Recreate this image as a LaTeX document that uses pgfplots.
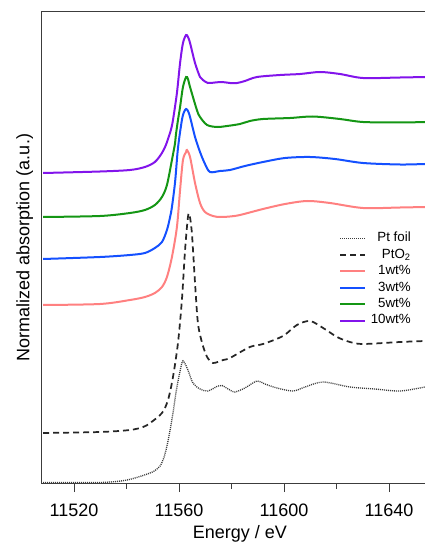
\documentclass[border=0pt]{standalone}
\usepackage{fontspec}
\setmainfont{Liberation Sans}
\usepackage{pgfplots}
\pgfplotsset{compat=1.18}
\definecolor{wtone}{RGB}{255,128,128}
\definecolor{wtthree}{RGB}{20,80,255}
\definecolor{wtfive}{RGB}{20,150,20}
\definecolor{wtten}{RGB}{130,20,235}
\definecolor{axgray}{RGB}{60,60,60}

\begin{document}
\begin{tikzpicture}
\begin{axis}[
  scale only axis,
  width=289.8pt, height=353.25pt,
  xmin=11507.8, xmax=11655, ymin=0, ymax=4.71,
  axis line style={axgray, line width=0.75pt},
  xtick={11520,11560,11600,11640},
  xticklabels={11520,11560,11600,11640},
  scaled x ticks=false,
  minor x tick num=1,
  xtick pos=bottom, ytick=\empty,
  tick align=outside,
  major tick length=6.75pt, minor tick length=4.5pt,
  every tick/.style={axgray, line width=0.75pt},
  xticklabel style={font=\fontsize{13.5}{16}\selectfont, yshift=-5.5pt},
  xlabel={Energy / eV},
  ylabel={Normalized absorption (a.u.)},
  label style={font=\fontsize{13.5}{16}\selectfont},
  xlabel style={at={([yshift=-41.5pt]axis description cs:0.5124,0)}, anchor=base},
  ylabel style={at={([xshift=-9.4pt]axis description cs:0,0.5)}, rotate=0, anchor=base},
  legend cell align=right,
  legend image code/.code={\draw[#1] (0pt,0pt) -- (18.75pt,0pt);},
  legend style={at={(axis description cs:0.9568,0.535)}, anchor=north east,
    draw=none, fill=none, inner sep=0pt, row sep=1.3pt, column sep=3pt,
    font=\fontsize{10}{12}\selectfont,
    nodes={inner sep=0.5pt, text height=7.5pt, text depth=2.5pt}},
]
% Pt foil
\addplot[axgray, line width=1pt, dash pattern=on 0.75pt off 0.75pt, smooth] coordinates {
  (11508.2,0.005) (11529.9,0.005) (11540.2,0.03) (11549.0,0.10) (11551.6,0.14)
  (11552.8,0.17) (11554.2,0.25) (11555.4,0.37) (11556.6,0.53) (11557.7,0.70)
  (11559.2,0.96) (11561.1,1.20) (11561.9,1.21) (11563.4,1.13) (11565.3,1.00)
  (11568.0,0.94) (11571.0,0.92) (11574.8,0.97) (11576.4,0.975) (11579.4,0.93)
  (11581.3,0.91) (11585.1,0.95) (11589.7,1.02) (11592.7,0.99) (11597.3,0.95)
  (11603.4,0.92) (11608.0,0.96) (11614.9,1.01) (11625.1,0.96) (11634.6,0.94)
  (11644.2,0.92) (11653.7,0.96) (11655,0.965)};
\addlegendentry{Pt foil}
% PtO2
\addplot[black!85, line width=1.3pt, dash pattern=on 4.5pt off 3pt, smooth] coordinates {
  (11508.2,0.50) (11529.9,0.51) (11541.3,0.53) (11546.3,0.56) (11549.0,0.60)
  (11553.5,0.70) (11555.8,0.83) (11557.7,1.06) (11559.6,1.40) (11561.1,1.83)
  (11562.3,2.33) (11563.4,2.66) (11564.0,2.68) (11564.9,2.50) (11566.1,2.00)
  (11567.2,1.60) (11568.8,1.40) (11570.7,1.26) (11572.9,1.20) (11576.8,1.23)
  (11579.4,1.25) (11587.0,1.36) (11592.0,1.39) (11599.6,1.47) (11604.9,1.58)
  (11609.9,1.62) (11614.9,1.55) (11620.2,1.46) (11625.1,1.41) (11630.1,1.39)
  (11644.2,1.41) (11653.7,1.42) (11655,1.42)};
\addlegendentry{PtO\textsubscript{2}}
% 1 wt%
\addplot[wtone, line width=1.5pt, smooth] coordinates {
  (11508.2,1.78) (11529.9,1.79) (11541.3,1.83) (11547.0,1.86) (11550.8,1.90)
  (11553.5,1.96) (11555.4,2.06) (11557.3,2.26) (11559.2,2.56) (11560.4,2.93)
  (11561.5,3.23) (11562.7,3.31) (11563.0,3.33) (11564.2,3.26) (11566.1,3.00)
  (11568.0,2.80) (11569.9,2.71) (11572.9,2.67) (11575.6,2.66) (11579.4,2.665)
  (11583.2,2.68) (11592.0,2.74) (11600.4,2.79) (11608.8,2.82) (11617.5,2.80)
  (11630.1,2.75) (11644.2,2.755) (11653.7,2.76) (11655,2.76)};
\addlegendentry{1wt\%}
% 3 wt%
\addplot[wtthree, line width=1.5pt, smooth] coordinates {
  (11508.2,2.24) (11529.9,2.26) (11541.3,2.28) (11547.0,2.30) (11550.8,2.35)
  (11553.5,2.41) (11555.4,2.53) (11556.6,2.66) (11557.3,2.76) (11558.5,3.01)
  (11559.6,3.35) (11561.1,3.63) (11561.9,3.71) (11562.7,3.74) (11563.4,3.72)
  (11564.2,3.66) (11566.1,3.46) (11568.0,3.31) (11569.9,3.19) (11571.8,3.11)
  (11575.6,3.12) (11579.4,3.13) (11585.1,3.17) (11592.0,3.21) (11600.4,3.25)
  (11609.9,3.26) (11619.4,3.24) (11630.1,3.20) (11644.2,3.185) (11653.7,3.19)
  (11655,3.19)};
\addlegendentry{3wt\%}
% 5 wt%
\addplot[wtfive, line width=1.5pt, smooth] coordinates {
  (11508.2,2.66) (11529.9,2.67) (11541.3,2.70) (11547.0,2.73) (11550.8,2.78)
  (11553.5,2.86) (11555.4,2.98) (11557.3,3.23) (11558.5,3.40) (11558.8,3.48)
  (11559.6,3.63) (11560.4,3.76) (11561.5,3.96) (11562.7,4.06) (11563.4,4.04)
  (11564.2,3.96) (11566.8,3.73) (11568.0,3.66) (11570.7,3.58) (11574.5,3.56)
  (11578.3,3.57) (11583.2,3.59) (11587.0,3.62) (11592.0,3.64) (11602.3,3.65)
  (11611.0,3.665) (11621.3,3.64) (11630.1,3.61) (11644.2,3.605) (11653.7,3.61)
  (11655,3.61)};
\addlegendentry{5wt\%}
% 10 wt%
\addplot[wtten, line width=1.5pt, smooth] coordinates {
  (11508.2,3.10) (11529.9,3.115) (11541.3,3.13) (11547.0,3.16) (11550.8,3.21)
  (11553.5,3.30) (11555.0,3.38) (11555.8,3.44) (11556.9,3.53) (11557.7,3.63)
  (11559.2,3.90) (11560.4,4.20) (11561.5,4.40) (11562.7,4.48) (11563.4,4.46)
  (11564.2,4.40) (11566.1,4.20) (11568.0,4.06) (11569.1,4.03) (11571.0,4.00)
  (11573.7,4.005) (11576.4,4.01) (11579.4,4.00) (11582.1,4.00) (11585.1,4.02)
  (11589.7,4.06) (11598.5,4.08) (11606.1,4.09) (11613.7,4.11) (11621.3,4.09)
  (11630.1,4.05) (11644.2,4.055) (11653.7,4.06) (11655,4.06)};
\addlegendentry{10wt\%}
\end{axis}
\pgfresetboundingbox
\useasboundingbox (-31.5pt,-45.75pt) rectangle (287.25pt,362.25pt);
\end{tikzpicture}
\end{document}
